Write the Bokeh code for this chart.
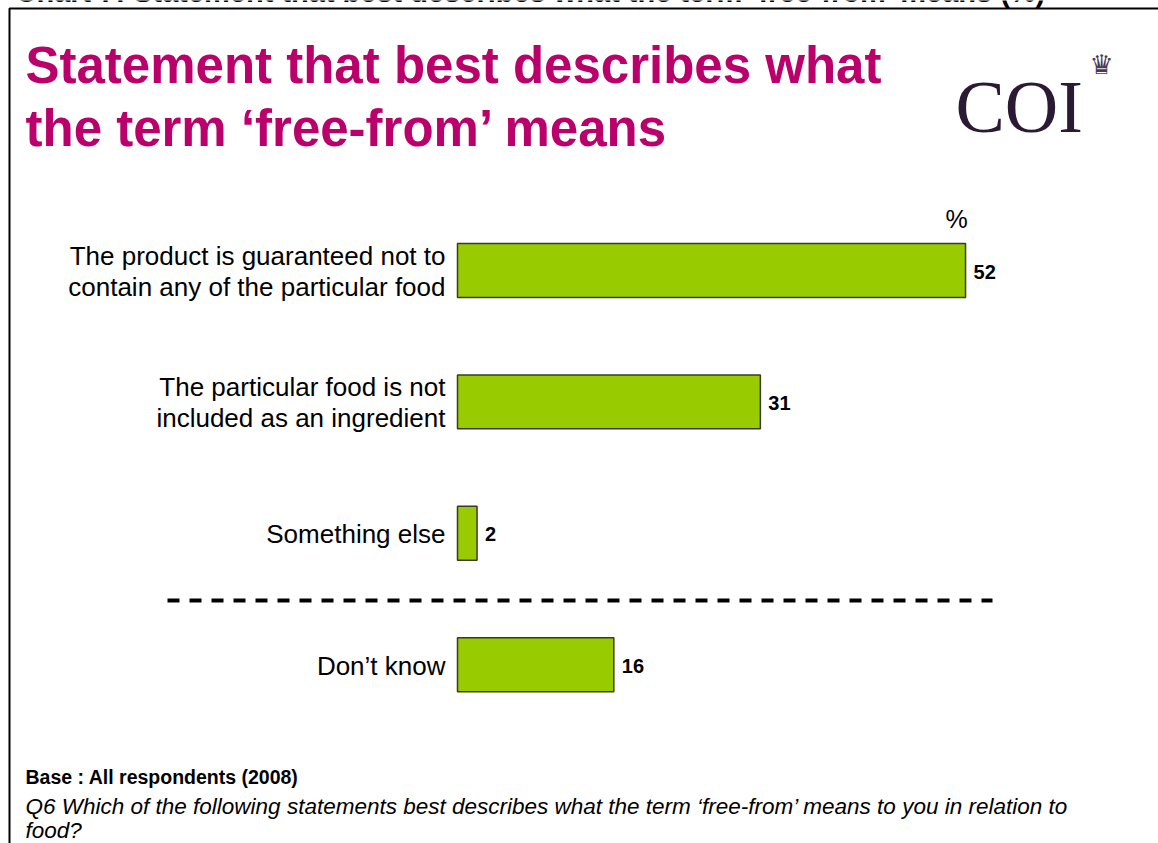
from bokeh.plotting import figure
from bokeh.models import Range1d, Label, ColumnDataSource
from bokeh.core.properties import value
from bokeh.embed import file_html
from bokeh.resources import INLINE

# ---- data ----
categories = [
    "The product is guaranteed not to\ncontain any of the particular food",
    "The particular food is not\nincluded as an ingredient",
    "Something else",
    "Don\u2019t know",
]
percentages = [52, 31, 2, 16]
value_labels = [str(v) for v in percentages]
positions = [0, 1, 2, 3]

W, H = 1158, 843
X0_PX = 457.0          # pixel of value 0
PX_PER_UNIT = 9.77
ROW0_PX = 270.0
ROW_PX = 131.4

p = figure(
    width=W, height=H,
    x_range=Range1d(-X0_PX / PX_PER_UNIT, (W - X0_PX) / PX_PER_UNIT),
    y_range=Range1d((H - ROW0_PX) / ROW_PX, -ROW0_PX / ROW_PX),
    output_backend="svg", toolbar_location=None,
    x_axis_location=None, y_axis_location=None,
    min_border=0,
)
p.extra_x_ranges = {"px": Range1d(0, W)}
p.extra_y_ranges = {"px": Range1d(H, 0)}
p.xgrid.visible = False
p.ygrid.visible = False
p.outline_line_color = None
p.background_fill_color = "white"
p.border_fill_color = "white"

src = ColumnDataSource(dict(y=positions, v=percentages, cat=categories, lab=value_labels))

p.hbar(y="y", left=0, right="v", height=0.41, source=src,
       fill_color="#99CC00", line_color="#3b3b22", line_width=1.5)

p.text(x=0, y="y", text="cat", source=src, x_offset=-12, y_offset=1,
       text_align="right", text_baseline="middle",
       text_font=value("Liberation Sans"), text_font_size="26px",
       text_color="black", text_line_height=1.03)

p.text(x="v", y="y", text="lab", source=src, x_offset=8, y_offset=1,
       text_align="left", text_baseline="middle",
       text_font=value("Liberation Sans"), text_font_size="20px",
       text_font_style="bold", text_color="black")

# separator dashed line (between answers and Don't know)
p.line(x=[167, 992], y=[600, 600], x_range_name="px", y_range_name="px",
       line_color="black", line_width=4, line_dash="12 10")

# frame lines
p.line(x=[9, 9, W + 5], y=[H + 5, 8, 8], x_range_name="px", y_range_name="px",
       line_color="black", line_width=2)

def lab(text, x, y, size, color="black", style="normal", font="Liberation Sans",
        align="left", baseline="middle"):
    p.add_layout(Label(x=x, y=y, text=text, x_range_name="px", y_range_name="px",
                       text_font=font, text_font_size=size, text_color=color,
                       text_font_style=style, text_align=align,
                       text_baseline=baseline))

# cut-off page caption at very top
lab("Chart 7: Statement that best describes what the term \u2018free-from\u2019 means (%)",
    15, -9, "29px", style="bold")

# title
lab("Statement that best describes what", 25, 65, "51px", color="#BA006A", style="bold")
lab("the term \u2018free-from\u2019 means", 25, 128, "51px", color="#BA006A", style="bold")

# logo
lab("COI", 955, 106, "74px", color="#2B1A33", font="Liberation Serif")
lab("\u265B", 1101, 64, "27px", color="#4a3a55", font="DejaVu Sans", align="center")

# percent marker
lab("%", 956, 218, "25px", align="center")

# footnotes
lab("Base : All respondents  (2008)", 25, 776, "19.5px", style="bold")
lab("Q6 Which of the following statements best describes what the term \u2018free-from\u2019 means to you in relation to",
    25, 806, "22.5px", style="italic")
lab("food?", 25, 830, "22.5px", style="italic")

open("out.html", "w").write(file_html(p, INLINE))
